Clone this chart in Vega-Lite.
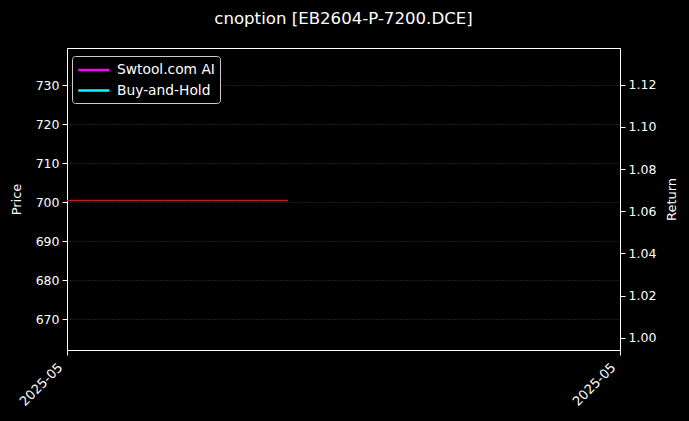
{
  "$schema": "https://vega.github.io/schema/vega-lite/v6.json",
  "autosize": "none",
  "width": 553,
  "height": 302,
  "padding": {"left": 67, "top": 48, "right": 69, "bottom": 71},
  "background": "#000000",
  "title": {"text": "cnoption [EB2604-P-7200.DCE]", "color": "#ffffff", "font": "DejaVu Sans", "fontSize": 16.6, "fontWeight": "normal", "anchor": "middle", "offset": 20},
  "config": {
    "view": {"stroke": "#ffffff", "strokeWidth": 1},
    "axis": {
      "labelFont": "DejaVu Sans", "labelFontSize": 12.5, "labelColor": "#ffffff",
      "titleFont": "DejaVu Sans", "titleFontSize": 13, "titleColor": "#ffffff", "titleFontWeight": "normal",
      "domainColor": "#ffffff", "tickColor": "#ffffff", "tickSize": 5, "labelPadding": 3,
      "gridColor": "#777777", "gridDash": [1, 2], "gridWidth": 0.6, "gridOpacity": 0.8
    },
    "legend": {"labelFont": "DejaVu Sans", "labelFontSize": 13.8, "labelColor": "#ffffff"}
  },
  "datasets": {
    "price": [
      {"date": "2025-05-01", "price": 700.4},
      {"date": "2025-05-02", "price": 700.4},
      {"date": "2025-05-05", "price": 700.4},
      {"date": "2025-05-06", "price": 700.4},
      {"date": "2025-05-07", "price": 700.4},
      {"date": "2025-05-08", "price": 700.4},
      {"date": "2025-05-09", "price": 700.4},
      {"date": "2025-05-12", "price": 700.4},
      {"date": "2025-05-13", "price": 700.4}
    ],
    "strategy": [
      {"date": "2025-05-01", "series": "Swtool.com AI", "ret": null},
      {"date": "2025-05-01", "series": "Buy-and-Hold", "ret": null}
    ]
  },
  "layer": [
    {
      "data": {"name": "price"},
      "mark": {"type": "line", "color": "#c01c1c", "strokeWidth": 1.4},
      "encoding": {
        "x": {"field": "date", "type": "temporal",
              "scale": {"domain": [{"year": 2025, "month": 5, "date": 1}, {"year": 2025, "month": 5, "date": 31}]},
              "axis": {"title": null, "grid": false, "values": [{"year": 2025, "month": 5, "date": 1}, {"year": 2025, "month": 5, "date": 31}],
                       "format": "%Y-%m", "labelAngle": -45, "labelAlign": "right", "labelBaseline": "bottom", "tickSize": 5, "labelPadding": 15, "labelFontSize": 13, "labelOffset": -2}},
        "y": {"field": "price", "type": "quantitative",
              "scale": {"domain": [662.05, 739.5], "nice": false, "zero": false},
              "axis": {"title": "Price", "orient": "left", "values": [670, 680, 690, 700, 710, 720, 730], "titlePadding": 12}}
      }
    },
    {
      "data": {"name": "strategy"},
      "mark": {"type": "line", "strokeWidth": 2},
      "encoding": {
        "x": {"field": "date", "type": "temporal"},
        "y": {"field": "ret", "type": "quantitative",
              "scale": {"domain": [0.9942, 1.1374], "nice": false, "zero": false},
              "axis": {"title": "Return", "orient": "right", "titleAngle": 270, "titleBaseline": "top", "values": [1.0, 1.02, 1.04, 1.06, 1.08, 1.1, 1.12], "format": ".2f", "titlePadding": 10}},
        "color": {"field": "series", "type": "nominal",
                  "scale": {"domain": ["Swtool.com AI", "Buy-and-Hold"], "range": ["#ff00ff", "#00ffff"]},
                  "legend": {"title": null, "orient": "none", "legendX": 5, "legendY": 8, "symbolType": "M-1,0H3", "symbolStrokeWidth": 2.5, "symbolSize": 240,
                             "fillColor": "#000000", "strokeColor": "#cccccc", "cornerRadius": 3, "padding": 5, "rowPadding": 4.5, "labelOffset": 22}}
      }
    }
  ],
  "resolve": {"scale": {"y": "independent"}}
}
